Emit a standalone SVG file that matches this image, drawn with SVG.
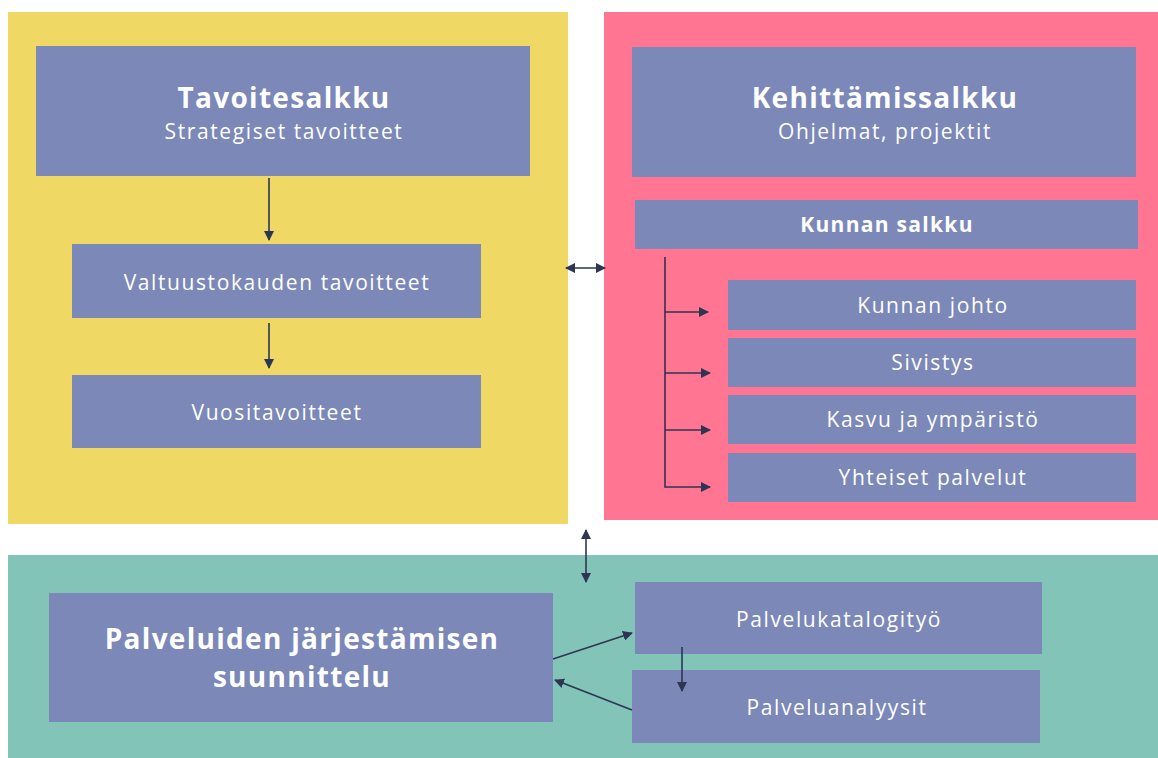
<svg xmlns="http://www.w3.org/2000/svg" width="1158" height="758" viewBox="0 0 1158 758">
<defs>
<marker id="ah" viewBox="0 0 10 10" refX="9" refY="5" markerWidth="10" markerHeight="10" markerUnits="userSpaceOnUse" orient="auto-start-reverse">
<path d="M0,0 L10,5 L0,10 z" fill="#2E3553"/>
</marker>
<style>
.box{fill:#7B88B8}
.t{font-family:"Open Sans",Lato,sans-serif;fill:#ffffff;text-anchor:middle}
.h{font-size:28px;font-weight:bold;letter-spacing:1.3px}
.s{font-size:21px;letter-spacing:1.6px}
.m{font-size:21px;letter-spacing:1.6px}
.b{font-size:21px;font-weight:bold;letter-spacing:1.3px}
.c{stroke:#2E3553;stroke-width:1.6;fill:none}
</style>
</defs>
<rect width="1158" height="758" fill="#ffffff"/>
<g id="panel-yellow"><rect x="8" y="12" width="560" height="512" fill="#F0D864"/></g>
<g id="panel-pink"><rect x="604" y="12" width="554" height="508" fill="#FF7592"/></g>
<g id="panel-green"><rect x="8" y="555" width="1150" height="203" fill="#82C4B7"/></g>

<g id="tavoitesalkku"><rect class="box" x="36" y="46" width="494" height="130"/>
<text class="t h" x="284" y="108">Tavoitesalkku</text>
<text class="t s" x="284" y="139">Strategiset tavoitteet</text></g>
<g id="valtuustokauden"><rect class="box" x="72" y="244" width="409" height="74"/>
<text class="t m" x="277" y="290">Valtuustokauden tavoitteet</text></g>
<g id="vuositavoitteet"><rect class="box" x="72" y="375" width="409" height="73"/>
<text class="t m" x="277" y="420">Vuositavoitteet</text></g>

<g id="kehittamissalkku"><rect class="box" x="632" y="47" width="504" height="130"/>
<text class="t h" x="885" y="108">Kehittämissalkku</text>
<text class="t s" x="885" y="139">Ohjelmat, projektit</text></g>
<g id="kunnan-salkku"><rect class="box" x="635" y="200" width="503" height="49"/>
<text class="t b" x="887" y="232">Kunnan salkku</text></g>
<g id="kunnan-johto"><rect class="box" x="728" y="280" width="408" height="50"/>
<text class="t m" x="933" y="313">Kunnan johto</text></g>
<g id="sivistys"><rect class="box" x="728" y="338" width="408" height="49"/>
<text class="t m" x="933" y="370">Sivistys</text></g>
<g id="kasvu"><rect class="box" x="728" y="395" width="408" height="49"/>
<text class="t m" x="933" y="427">Kasvu ja ympäristö</text></g>
<g id="yhteiset"><rect class="box" x="728" y="453" width="408" height="49"/>
<text class="t m" x="933" y="485">Yhteiset palvelut</text></g>

<g id="palveluiden"><rect class="box" x="49" y="593" width="504" height="129"/>
<text class="t h" x="302" y="649">Palveluiden järjestämisen</text>
<text class="t h" x="302" y="687">suunnittelu</text></g>
<g id="palvelukatalogi"><rect class="box" x="635" y="582" width="407" height="72"/>
<text class="t m" x="839" y="627">Palvelukatalogityö</text></g>
<g id="palveluanalyysit"><rect class="box" x="632" y="670" width="408" height="73"/>
<text class="t m" x="837" y="715">Palveluanalyysit</text></g>

<g id="connectors">
<line class="c" x1="269" y1="178" x2="269" y2="240" marker-end="url(#ah)"/>
<line class="c" x1="269" y1="323" x2="269" y2="368" marker-end="url(#ah)"/>
<line class="c" x1="566" y1="268" x2="605" y2="268" marker-start="url(#ah)" marker-end="url(#ah)"/>
<line class="c" x1="586" y1="530" x2="586" y2="582" marker-start="url(#ah)" marker-end="url(#ah)"/>
<polyline class="c" points="665,257 665,487 710,487" marker-end="url(#ah)"/>
<line class="c" x1="665" y1="312" x2="708" y2="312" marker-end="url(#ah)"/>
<line class="c" x1="665" y1="373" x2="710" y2="373" marker-end="url(#ah)"/>
<line class="c" x1="665" y1="430" x2="710" y2="430" marker-end="url(#ah)"/>
<line class="c" x1="553" y1="659" x2="632" y2="633" marker-end="url(#ah)"/>
<line class="c" x1="632" y1="710" x2="555" y2="680" marker-end="url(#ah)"/>
<line class="c" x1="682" y1="647" x2="682" y2="691" marker-end="url(#ah)"/>
</g>
</svg>
